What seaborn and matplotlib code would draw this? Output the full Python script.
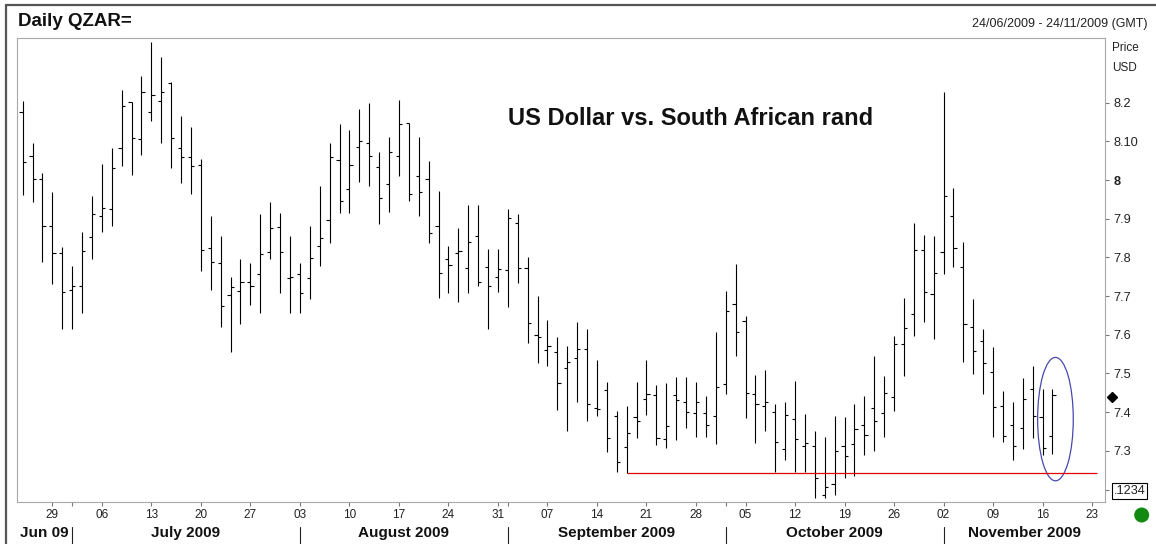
"""Daily USD/ZAR (QZAR=) OHLC bar chart, Jun-Nov 2009."""
import matplotlib

matplotlib.use("Agg")

import matplotlib.pyplot as plt  # noqa: E402
import matplotlib.transforms as mtransforms  # noqa: E402
from matplotlib.lines import Line2D  # noqa: E402
from matplotlib.patches import Ellipse  # noqa: E402
import pandas as pd  # noqa: E402
import seaborn as sns  # noqa: E402

# trading days shown on the axis (data ends 17 Nov, axis runs on to 24 Nov)
AXIS_DAYS = pd.bdate_range("2009-06-24", "2009-11-24")

OPEN = [
    8.176, 8.063, 8.003, 7.881, 7.812, 7.716, 7.727, 7.854, 7.908, 7.925,
    8.083, 8.201, 8.106, 8.176, 8.205, 8.252, 8.082, 8.059, 8.039, 7.825,
    7.785, 7.703, 7.713, 7.737, 7.757, 7.815, 7.878, 7.748, 7.756, 7.748,
    7.830, 7.897, 8.052, 7.978, 8.086, 8.095, 8.034, 7.990, 8.063, 8.148,
    8.011, 8.004, 7.882, 7.795, 7.812, 7.772, 7.855, 7.774, 7.750, 7.767,
    7.890, 7.772, 7.599, 7.561, 7.555, 7.515, 7.539, 7.563, 7.412, 7.457,
    7.390, 7.311, 7.387, 7.434, 7.444, 7.330, 7.444, 7.425, 7.397, 7.397,
    7.390, 7.473, 7.679, 7.636, 7.446, 7.417, 7.400, 7.304, 7.382, 7.313,
    7.313, 7.186, 7.214, 7.313, 7.317, 7.367, 7.412, 7.397, 7.438, 7.575,
    7.653, 7.819, 7.705, 7.815, 7.908, 7.774, 7.619, 7.584, 7.505, 7.417,
    7.367, 7.360, 7.460, 7.387, 7.339,
]
HIGH = [
    8.204, 8.096, 8.017, 7.970, 7.826, 7.779, 7.866, 7.959, 8.041, 8.083,
    8.234, 8.202, 8.269, 8.356, 8.319, 8.254, 8.166, 8.138, 8.054, 7.907,
    7.855, 7.749, 7.796, 7.786, 7.911, 7.944, 7.914, 7.855, 7.786, 7.882,
    7.984, 8.095, 8.144, 8.129, 8.183, 8.198, 8.072, 8.112, 8.207, 8.148,
    8.112, 8.049, 7.972, 7.830, 7.875, 7.935, 7.935, 7.823, 7.823, 7.925,
    7.912, 7.800, 7.701, 7.638, 7.594, 7.572, 7.632, 7.614, 7.535, 7.477,
    7.404, 7.416, 7.477, 7.535, 7.470, 7.475, 7.492, 7.490, 7.479, 7.443,
    7.606, 7.713, 7.783, 7.649, 7.496, 7.509, 7.421, 7.427, 7.481, 7.395,
    7.351, 7.335, 7.390, 7.387, 7.420, 7.442, 7.545, 7.494, 7.597, 7.694,
    7.888, 7.858, 7.856, 8.228, 7.980, 7.841, 7.692, 7.614, 7.568, 7.455,
    7.425, 7.488, 7.519, 7.460, 7.460,
]
LOW = [
    7.961, 7.942, 7.787, 7.731, 7.615, 7.615, 7.657, 7.795, 7.866, 7.881,
    8.037, 8.013, 8.065, 8.152, 8.097, 8.030, 7.993, 7.963, 7.766, 7.716,
    7.621, 7.556, 7.627, 7.677, 7.657, 7.796, 7.707, 7.657, 7.657, 7.692,
    7.779, 7.836, 7.914, 7.916, 7.996, 7.985, 7.886, 7.917, 8.010, 7.946,
    7.908, 7.836, 7.694, 7.707, 7.684, 7.707, 7.726, 7.615, 7.711, 7.673,
    7.735, 7.578, 7.528, 7.519, 7.406, 7.350, 7.427, 7.378, 7.391, 7.296,
    7.246, 7.242, 7.333, 7.393, 7.315, 7.308, 7.328, 7.358, 7.335, 7.335,
    7.318, 7.447, 7.545, 7.386, 7.320, 7.351, 7.246, 7.276, 7.244, 7.246,
    7.177, 7.177, 7.186, 7.229, 7.236, 7.288, 7.300, 7.335, 7.403, 7.494,
    7.597, 7.634, 7.589, 7.757, 7.774, 7.529, 7.499, 7.447, 7.337, 7.322,
    7.276, 7.305, 7.334, 7.289, 7.292,
]
CLOSE = [
    8.047, 8.003, 7.881, 7.812, 7.711, 7.726, 7.817, 7.911, 7.928, 8.030,
    8.191, 8.108, 8.228, 8.221, 8.228, 8.108, 8.059, 8.037, 7.819, 7.789,
    7.675, 7.723, 7.737, 7.727, 7.808, 7.875, 7.815, 7.750, 7.709, 7.798,
    7.849, 8.059, 7.947, 8.039, 8.101, 8.062, 7.953, 8.073, 8.144, 7.963,
    7.968, 7.864, 7.760, 7.780, 7.817, 7.839, 7.737, 7.727, 7.770, 7.901,
    7.772, 7.631, 7.594, 7.571, 7.475, 7.529, 7.563, 7.421, 7.408, 7.333,
    7.270, 7.345, 7.378, 7.447, 7.333, 7.364, 7.431, 7.401, 7.426, 7.367,
    7.466, 7.662, 7.608, 7.449, 7.421, 7.425, 7.322, 7.393, 7.330, 7.320,
    7.231, 7.207, 7.300, 7.287, 7.357, 7.341, 7.378, 7.449, 7.575, 7.618,
    7.819, 7.711, 7.761, 7.959, 7.824, 7.628, 7.558, 7.528, 7.414, 7.339,
    7.313, 7.433, 7.390, 7.308, 7.444,
]

PRICE_TICKS = [7.2, 7.3, 7.4, 7.5, 7.6, 7.7, 7.8, 7.9, 8.0, 8.1, 8.2]
PRICE_LABELS = [".1234", "7.3", "7.4", "7.5", "7.6", "7.7", "7.8", "7.9", "8", "8.10", "8.2"]
MONTH_LABELS = ["Jun 09", "July 2009", "August 2009", "September 2009",
                "October 2009", "November 2009"]

SUPPORT_LEVEL = 7.242
SUPPORT_START = "2009-09-17"
LAST_CLOSE = 7.44

TITLE = "US Dollar vs. South African rand"

sns.set_theme(style="white")
plt.rcParams["font.family"] = ["Liberation Sans", "DejaVu Sans"]


def draw_bars(ax, x):
    ax.vlines(x, LOW, HIGH, color="black", lw=0.8)
    ax.hlines(OPEN, x - 0.32, x, color="black", lw=0.8)
    ax.hlines(CLOSE, x, x + 0.32, color="black", lw=0.8)


def main():
    fig = plt.figure(figsize=(11.56, 5.44), dpi=100)
    ax = fig.add_axes([0.01445, 0.0767, 0.9414, 0.854])

    x = pd.Series(range(len(OPEN)), dtype=float)
    draw_bars(ax, x)

    ax.set_xlim(-0.6, 109.3)
    ax.set_ylim(7.167, 8.368)
    for s in ax.spines.values():
        s.set_color("#a8a8a8")
        s.set_linewidth(0.8)

    # support line from the September low, circled last bars
    start = AXIS_DAYS.get_loc(pd.Timestamp(SUPPORT_START))
    ax.hlines(SUPPORT_LEVEL, start, 108.5, color="#e00000", lw=0.9)
    ax.add_patch(Ellipse((104.3, 7.382), 3.6, 0.319, fill=False,
                         edgecolor="#4848b0", lw=0.9))

    # bottom axis: Mondays + month starts
    pos = list(range(len(AXIS_DAYS)))
    mondays = [i for i in pos if AXIS_DAYS[i].weekday() == 0]
    month_starts = [i for i in pos[1:] if AXIS_DAYS[i].month != AXIS_DAYS[i - 1].month]
    ax.set_xticks(mondays)
    ax.set_xticklabels([AXIS_DAYS[i].strftime("%d") for i in mondays], fontsize=8.5, color="#222")
    ax.set_xticks(month_starts, minor=True)
    ax.tick_params(axis="x", which="both", direction="out", length=3, width=0.8,
                   color="#777", pad=1.5, bottom=True)

    # right price axis
    ax.yaxis.tick_right()
    ax.set_yticks(PRICE_TICKS)
    ax.set_yticklabels(PRICE_LABELS, fontsize=9.2, color="#222")
    ax.tick_params(axis="y", direction="out", length=3.2, width=0.8, color="#777",
                   pad=3, right=True)
    for lbl in ax.get_yticklabels():
        if lbl.get_text() == "8":
            lbl.set_fontweight("bold")
        if lbl.get_text() == ".1234":
            lbl.set_bbox(dict(facecolor="white", edgecolor="black", pad=1.2, lw=0.8))

    ax.grid(False)

    # month row below day labels
    trans = mtransforms.blended_transform_factory(ax.transData, ax.transAxes)
    bounds = [ax.get_xlim()[0]] + month_starts + [ax.get_xlim()[1]]
    for i, name in enumerate(MONTH_LABELS):
        ax.text((bounds[i] + bounds[i + 1]) / 2, -0.066, name, transform=trans,
                ha="center", va="center", fontsize=11, fontweight="bold",
                color="#111", clip_on=False)
    for m in month_starts:
        ax.add_line(Line2D([m, m], [-0.053, -0.095], transform=trans,
                           color="#222", lw=0.8, clip_on=False))

    # last close marker on the price axis
    trans_y = mtransforms.blended_transform_factory(ax.transAxes, ax.transData)
    ax.plot([1.0067], [LAST_CLOSE], marker="D", markersize=5, color="black",
            transform=trans_y, clip_on=False)

    ax.text(0.6196, 0.827, TITLE, transform=ax.transAxes, ha="center", va="center",
            fontsize=17, fontweight="bold", color="#111")

    fig.text(0.0156, 0.9608, "Daily QZAR=", ha="left", va="center",
             fontsize=13.5, fontweight="bold", color="#111")
    fig.text(0.9928, 0.9559, "24/06/2009 - 24/11/2009 (GMT)", ha="right",
             va="center", fontsize=9, color="#222")
    fig.text(0.962, 0.9118, "Price", ha="left", va="center", fontsize=8.5, color="#222")
    fig.text(0.962, 0.875, "USD", ha="left", va="center", fontsize=8.5, color="#222")

    # outer frame (top and left edges) and status dot
    fig.add_artist(Line2D([0.0056, 1.0], [0.9899, 0.9899], color="#555", lw=1.6))
    fig.add_artist(Line2D([0.0056, 0.0056], [0.0, 0.9899], color="#555", lw=1.6))
    fig.add_artist(Ellipse((1141.7 / 1156, 1 - 515 / 544), 15 / 1156, 15 / 544,
                           facecolor="#128a12", edgecolor="none"))

    fig.savefig("out.png", dpi=100)
    plt.close(fig)


if __name__ == "__main__":
    main()
